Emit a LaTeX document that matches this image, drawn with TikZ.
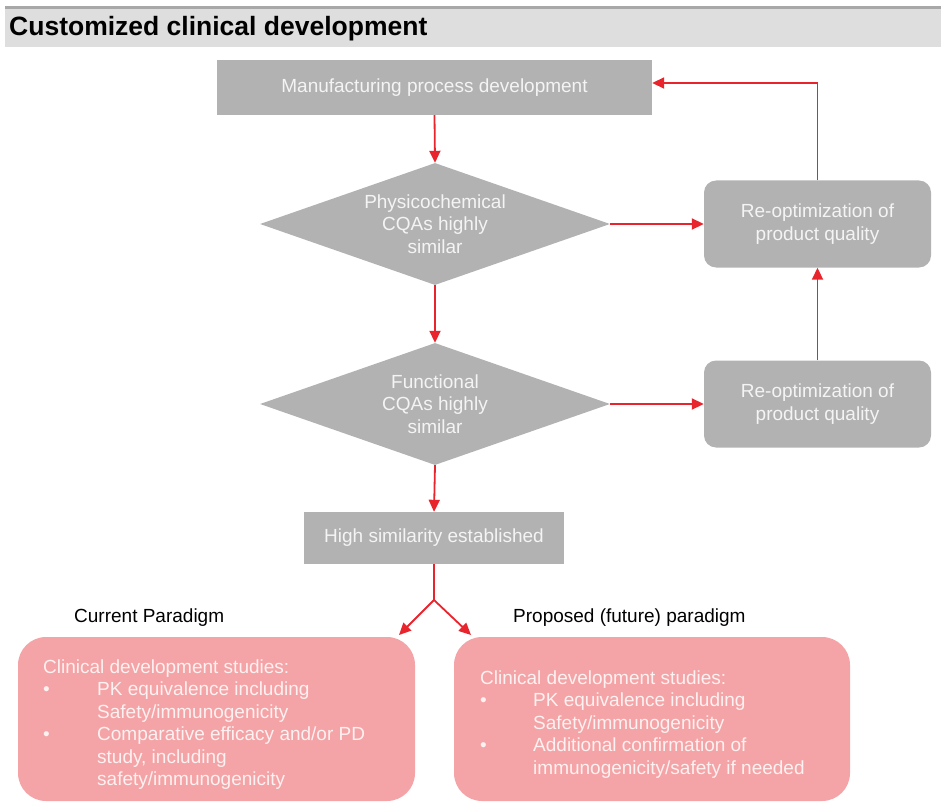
\documentclass[tikz,border=0pt]{standalone}
\usepackage{fontspec}
\setmainfont{Liberation Sans}
\usetikzlibrary{shapes.geometric,arrows.meta}
\definecolor{boxgray}{HTML}{B2B2B2}
\definecolor{boxtext}{HTML}{F4F4F4}
\definecolor{hdrband}{HTML}{DEDEDE}
\definecolor{hdrline}{HTML}{A8A8A8}
\definecolor{arrred}{HTML}{E8242C}
\definecolor{pinkbox}{HTML}{F4A4A6}
\definecolor{pinktext}{HTML}{FDF1F1}
\tikzset{
  txt/.style={font=\fontsize{19}{22.5}\selectfont},
  graybox/.style={txt, rectangle, fill=boxgray, text=boxtext, draw=none, align=center, inner sep=0pt},
  decision/.style={txt, diamond, fill=boxgray, text=boxtext, align=center, inner sep=0pt,
    minimum width=350pt, minimum height=122pt, aspect=2.87},
  reopt/.style={graybox, rounded corners=12pt, minimum width=227pt, minimum height=87pt},
  pinkrect/.style={rectangle, fill=pinkbox, rounded corners=28pt, minimum width=397pt, minimum height=164pt},
  pinktxt/.style={txt, text=pinktext, inner sep=0pt, anchor=base west},
  redline/.style={draw=arrred, line width=1.8pt},
  arr/.style={redline, -{Triangle[length=12pt,width=11pt]}},
  lbl/.style={txt, text=black, inner sep=0pt, anchor=base west}
}
\begin{document}
\begin{tikzpicture}[x=1pt,y=-1pt]
\useasboundingbox (0,0) rectangle (941,802);
% header
\fill[hdrline] (5,6.5) rectangle (941,9.5);
\fill[hdrband] (5,9.5) rectangle (941,47);
\node[anchor=base west, inner sep=0pt, font=\fontsize{26.5}{30}\selectfont\bfseries] (title) at (9,36) {Customized clinical development};
% main flow
\node[graybox, minimum width=435pt, minimum height=55pt] (mfg) at (434.5,87.5) {Manufacturing process development};
\node[decision] (d1) at (435,224) {Physicochemical\\CQAs highly\\similar};
\node[decision] (d2) at (435,404) {Functional\\CQAs highly\\similar};
\node[graybox, minimum width=260pt, minimum height=52pt] (high) at (434,538) {High similarity established};
\node[reopt] (r1) at (817.5,224) {Re-optimization of\\product quality};
\node[reopt] (r2) at (817.5,404) {Re-optimization of\\product quality};
% connectors
\draw[arr] (mfg.south) -- (d1.north);
\draw[arr] (d1.south) -- (d2.north);
\draw[arr] (d2.south) -- (high.north);
\draw[arr] (d1.east) -- (r1.west);
\draw[arr] (d2.east) -- (r2.west);
\draw[arr] (r2.north) -- (r1.south);
\draw[arr] (r1.north) |- ([yshift=4.5pt]mfg.east);
% split
\coordinate (split) at (434,600);
\coordinate (lt) at (399,635);
\coordinate (rt) at (471,635);
\draw[redline] (high.south) -- (split);
\draw[arr] (split) -- (lt);
\draw[arr] (split) -- (rt);
% labels
\node[lbl] (cur) at (74,622) {Current Paradigm};
\node[lbl] (prop) at (513,622) {Proposed (future) paradigm};
% bottom boxes
\node[pinkrect] (lbox) at (216.5,719) {};
\node[pinkrect, minimum width=396pt] (rbox) at (652,719) {};
\node[pinktxt] (ltext) at (43,673) {\begin{tabular}[t]{@{}p{54pt}@{}l@{}}
\multicolumn{2}{@{}l@{}}{Clinical development studies:}\\
\textbullet & PK equivalence including\\
 & Safety/immunogenicity\\
\textbullet & Comparative efficacy and/or PD\\
 & study, including\\
 & safety/immunogenicity
\end{tabular}};
\node[pinktxt] (rtext) at (480,684) {\begin{tabular}[t]{@{}p{53pt}@{}l@{}}
\multicolumn{2}{@{}l@{}}{Clinical development studies:}\\
\textbullet & PK equivalence including\\
 & Safety/immunogenicity\\
\textbullet & Additional confirmation of\\
 & immunogenicity/safety if needed
\end{tabular}};
\end{tikzpicture}
\end{document}
